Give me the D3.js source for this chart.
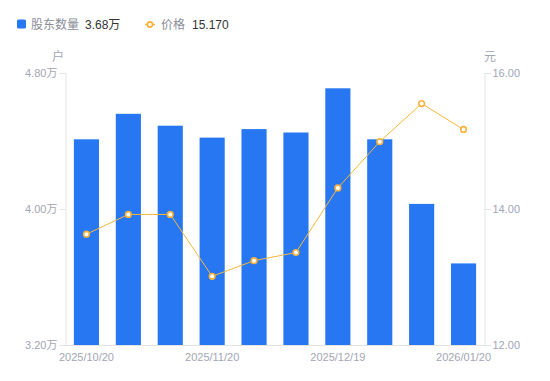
<!DOCTYPE html>
<html><head><meta charset="utf-8">
<script src="https://cdn.jsdelivr.net/npm/d3@7/dist/d3.min.js"></script>
<style>body{margin:0;background:#fff;font-family:"Liberation Sans","Noto Sans CJK SC",sans-serif;}</style>
</head><body><svg id="c" width="550" height="381"></svg>
<script>
const dates = ["2025/10/20","2025/10/31","2025/11/10","2025/11/20","2025/11/28","2025/12/10","2025/12/19","2025/12/31","2026/01/10","2026/01/20"];
const holders = [4.41, 4.56, 4.49, 4.42, 4.47, 4.45, 4.71, 4.41, 4.03, 3.68];
const prices = [13.63, 13.92, 13.92, 13.01, 13.24, 13.36, 14.31, 14.99, 15.55, 15.17];
const shownDates = ["2025/10/20","2025/11/20","2025/12/19","2026/01/20"];
const leftTicks = [3.2, 4.0, 4.8];
const rightTicks = [12, 14, 16];

const svg = d3.select("#c");
const L = 65.5, R = 484.5, T = 73, B = 345;
const x = d3.scaleBand().domain(dates).range([L, R]).paddingInner(0.4).paddingOuter(0.2);
const yL = d3.scaleLinear().domain([3.2, 4.8]).range([B, T]);
const yR = d3.scaleLinear().domain([12, 16]).range([B, T]);
const axisColor = "#e3e3e3", labelColor = "#a3a6b4";
const font = '"Liberation Sans","Noto Sans CJK SC",sans-serif';

// bars
svg.append("g").selectAll("rect").data(holders).join("rect")
  .attr("x", (d,i)=>x(dates[i]))
  .attr("y", d=>yL(d))
  .attr("width", x.bandwidth())
  .attr("height", d=>B - yL(d))
  .attr("fill", "#2777f2");

// axes
const la = svg.append("g").attr("transform", `translate(${L},0)`)
  .call(d3.axisLeft(yL).tickValues(leftTicks).tickSize(6).tickPadding(2).tickFormat(d=>d3.format(".2f")(d)+"万"));
const ra = svg.append("g").attr("transform", `translate(${R},0)`)
  .call(d3.axisRight(yR).tickValues(rightTicks).tickSize(6).tickPadding(2).tickFormat(d3.format(".2f")));
const ba = svg.append("g").attr("transform", `translate(0,${B})`)
  .call(d3.axisBottom(x).tickValues(shownDates).tickSize(0).tickPadding(8));
[la, ra, ba].forEach(g=>{
  g.selectAll("path, line").attr("stroke", axisColor);
  g.selectAll("text").attr("fill", labelColor).style("font-family", font).style("font-size", "11px");
});
ba.select(".domain").attr("d", `M${L},0.5H${R}`);

// axis titles
svg.append("text").attr("x", 58).attr("y", 61).attr("text-anchor","middle").attr("fill", labelColor)
  .style("font-family", font).style("font-size","12px").text("户");
svg.append("text").attr("x", 490).attr("y", 61).attr("text-anchor","middle").attr("fill", labelColor)
  .style("font-family", font).style("font-size","12px").text("元");

// price line
const cx = (i)=>x(dates[i]) + x.bandwidth()/2;
const line = d3.line().x((d,i)=>cx(i)).y(d=>yR(d));
svg.append("path").datum(prices).attr("d", line).attr("fill","none").attr("stroke","#f8b73c").attr("stroke-width",1);
svg.append("g").selectAll("circle").data(prices).join("circle")
  .attr("cx",(d,i)=>cx(i)).attr("cy",d=>yR(d)).attr("r",2.8)
  .attr("fill","#fff").attr("stroke","#f8b23a").attr("stroke-width",1.6);

// legend
const lg = svg.append("g").style("font-family", font).style("font-size","12px");
lg.append("rect").attr("x",17).attr("y",19.5).attr("width",9).attr("height",9).attr("rx",1.5).attr("fill","#2777f2");
lg.append("text").attr("x",31).attr("y",28.5).attr("fill","#8a8d99").text("股东数量");
lg.append("text").attr("x",85).attr("y",28.5).attr("fill","#333").text(d3.format(".2f")(holders[holders.length-1])+"万");
lg.append("line").attr("x1",145).attr("x2",155).attr("y1",24.5).attr("y2",24.5).attr("stroke","#f8b73c").attr("stroke-width",1.5);
lg.append("circle").attr("cx",150).attr("cy",24.5).attr("r",2.6).attr("fill","#fff").attr("stroke","#f8b23a").attr("stroke-width",1.6);
lg.append("text").attr("x",161).attr("y",28.5).attr("fill","#8a8d99").text("价格");
lg.append("text").attr("x",192).attr("y",28.5).attr("fill","#333").text(d3.format(".3f")(prices[prices.length-1]));
</script></body></html>
